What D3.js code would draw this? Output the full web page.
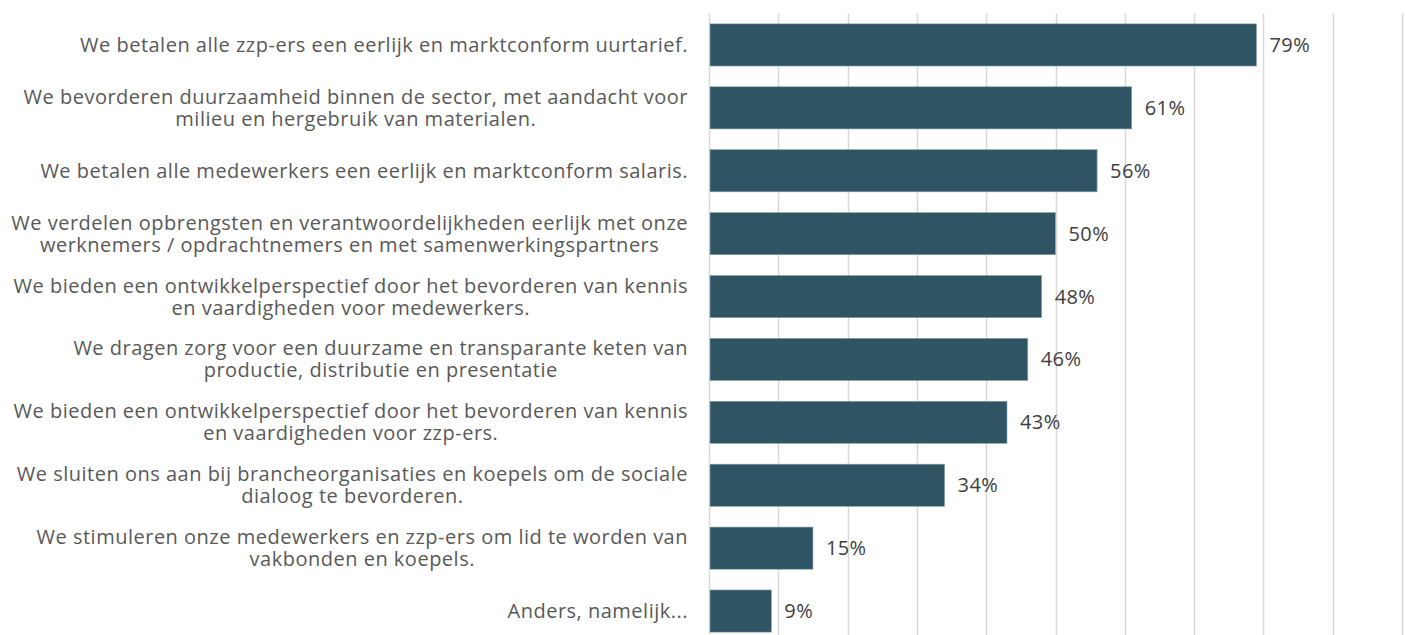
<!DOCTYPE html>
<html>
<head>
<meta charset="utf-8">
<script src="https://cdn.jsdelivr.net/npm/d3@7"></script>
<style>
  body { margin: 0; background: #fff; }
  svg text { font-family: "Open Sans", sans-serif; }
</style>
</head>
<body>
<div id="chart"></div>
<script>
// categories, top to bottom ("\n" = line break in the label)
const categories = [
    "We betalen alle zzp-ers een eerlijk en marktconform uurtarief.",
    "We bevorderen duurzaamheid binnen de sector, met aandacht voor\nmilieu en hergebruik van materialen.",
    "We betalen alle medewerkers een eerlijk en marktconform salaris.",
    "We verdelen opbrengsten en verantwoordelijkheden eerlijk met onze\nwerknemers / opdrachtnemers en met samenwerkingspartners",
    "We bieden een ontwikkelperspectief door het bevorderen van kennis\nen vaardigheden voor medewerkers.",
    "We dragen zorg voor een duurzame en transparante keten van\nproductie, distributie en presentatie",
    "We bieden een ontwikkelperspectief door het bevorderen van kennis\nen vaardigheden voor zzp-ers.",
    "We sluiten ons aan bij brancheorganisaties en koepels om de sociale\ndialoog te bevorderen.",
    "We stimuleren onze medewerkers en zzp-ers om lid te worden van\nvakbonden en koepels.",
    "Anders, namelijk..."
];
const values = [79, 61, 56, 50, 48, 46, 43, 34, 15, 9];
const gridTicks = [0, 10, 20, 30, 40, 50, 60, 70, 80, 90, 100];

const data = categories.map((c, i) => ({label: c, value: values[i]}));

const W = 1405, H = 635;
const x0 = 709, x1 = 1402;
const plotTop = 13.5, plotBottom = 642.5;

const svg = d3.select("#chart").append("svg")
    .attr("width", W)
    .attr("height", H);

const x = d3.scaleLinear().domain([0, 100]).range([x0, x1]);
const y = d3.scaleBand()
    .domain(categories)
    .range([plotTop, plotBottom])
    .paddingInner(0.33)
    .paddingOuter(0.165);

// gridlines
svg.append("g")
    .selectAll("line")
    .data(gridTicks)
    .join("line")
    .attr("x1", d => Math.round(x(d)) + 0.5)
    .attr("x2", d => Math.round(x(d)) + 0.5)
    .attr("y1", plotTop)
    .attr("y2", plotBottom)
    .attr("stroke", "#d9d9d9")
    .attr("stroke-width", 1.5);

// bars
svg.append("g")
    .selectAll("rect")
    .data(data)
    .join("rect")
    .attr("x", x(0) + 1)
    .attr("y", d => y(d.label))
    .attr("width", d => x(d.value) - x(0) - 1)
    .attr("height", y.bandwidth())
    .attr("fill", "#2f5564")
    .attr("stroke", "#8aa3ad")
    .attr("stroke-width", 0.6);

// value labels
svg.append("g")
    .selectAll("text")
    .data(data)
    .join("text")
    .attr("x", d => x(d.value) + 13)
    .attr("y", d => y(d.label) + y.bandwidth() / 2)
    .attr("dy", "0.35em")
    .attr("fill", "#404040")
    .style("font-size", "20px")
    .style("letter-spacing", "0.4px")
    .text(d => d.value + "%");

// category labels: lines centred in a block whose right edge is at labelRight
const labelRight = 688;
const lineH = 22;
const lab = svg.append("g");
data.forEach(d => {
    const lines = d.label.split("\n");
    const cy = y(d.label) + y.bandwidth() / 2;
    const g = lab.append("g");
    const texts = lines.map((ln, i) => g.append("text")
        .attr("y", cy + (i - (lines.length - 1) / 2) * lineH)
        .attr("dy", "0.35em")
        .attr("text-anchor", "middle")
        .attr("fill", "#595959")
        .style("font-size", "20px")
        .style("letter-spacing", "0.5px")
        .text(ln));
    const wMax = d3.max(texts, t => t.node().getComputedTextLength());
    texts.forEach(t => t.attr("x", labelRight - wMax / 2));
});
</script>
</body>
</html>
